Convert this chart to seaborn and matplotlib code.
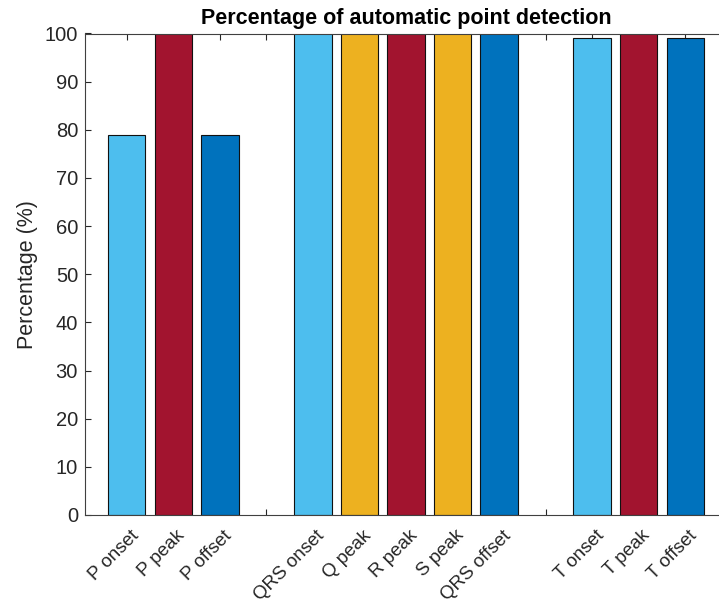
import matplotlib
matplotlib.use("Agg")
import matplotlib.pyplot as plt
import matplotlib.transforms as mtransforms
import seaborn as sns
import pandas as pd

# Detection rates per fiducial point (%)
points = ["P onset", "P peak", "P offset",
          "QRS onset", "Q peak", "R peak", "S peak", "QRS offset",
          "T onset", "T peak", "T offset"]
rates = [79, 100, 79,
         100, 100, 100, 100, 100,
         99, 100, 99]
point_kind = ["onset", "peak", "offset",
              "onset", "qs", "peak", "qs", "offset",
              "onset", "peak", "offset"]
# blank slots separate the P, QRS and T groups on the axis
axis_order = ["P onset", "P peak", "P offset", " ",
              "QRS onset", "Q peak", "R peak", "S peak", "QRS offset", "  ",
              "T onset", "T peak", "T offset"]
kind_colors = {"onset": "#4DBEEE", "peak": "#A2142F",
               "offset": "#0072BD", "qs": "#EDB120"}

df = pd.DataFrame({"point": points, "rate": rates, "kind": point_kind})

sns.set_theme(style="white")
plt.rcParams["font.family"] = ["Liberation Sans", "DejaVu Sans"]
text_col = "#262626"

fig = plt.figure(figsize=(7.19, 6.08), dpi=100)
ax = fig.add_axes([85 / 719, 1 - 515 / 608, 642 / 719, (515 - 33.5) / 608])

sns.barplot(data=df, x="point", y="rate", hue="kind", order=axis_order,
            palette=kind_colors, dodge=False, width=0.8, saturation=1,
            edgecolor="#111111", linewidth=0.8, legend=False, ax=ax)

ax.set_xlim(-0.9, 12.9)
ax.set_ylim(0, 100)
ax.set_yticks(range(0, 101, 10))
ax.set_xticks(range(len(axis_order)))
ax.set_xticklabels(axis_order, rotation=45, ha="right", rotation_mode="anchor")

ax.tick_params(axis="both", direction="in", length=4, width=0.8,
               color=text_col, labelcolor=text_col,
               top=True, bottom=True, left=True, right=False)
ax.tick_params(axis="x", pad=8, labelsize=13.5)
ax.tick_params(axis="y", pad=5, labelsize=14.5)

# nudge the slanted category labels to the right of their ticks
shift = mtransforms.ScaledTranslation(0.03, -0.01, fig.dpi_scale_trans)
for lbl in ax.get_xticklabels():
    lbl.set_transform(lbl.get_transform() + shift)

for side in ["left", "bottom", "top", "right"]:
    ax.spines[side].set_color("#404040")
    ax.spines[side].set_linewidth(0.8)
    ax.spines[side].set_visible(True)

ax.set_xlabel("")
ax.set_ylabel("Percentage (%)", fontsize=15.5, color=text_col, labelpad=5)
ax.set_title("Percentage of automatic point detection",
             fontsize=15.5, fontweight="bold", color="black", pad=7)

fig.savefig("out.png", dpi=100)
